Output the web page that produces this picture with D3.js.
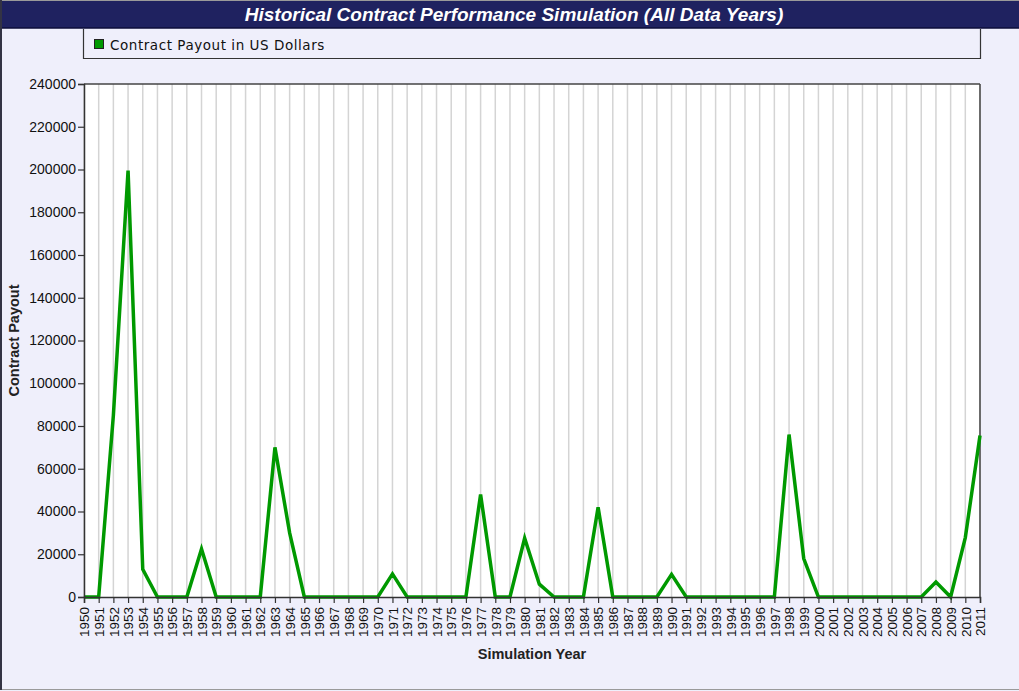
<!DOCTYPE html>
<html><head><meta charset="utf-8">
<script src="https://cdn.jsdelivr.net/npm/d3@7"></script>
<style>
html,body{margin:0;padding:0;background:#efeffb;}
svg{display:block;}
</style></head>
<body>
<svg id="chart" width="1019" height="691"></svg>
<script>
const titleText = "Historical Contract Performance Simulation (All Data Years)";
const legendLabel = "Contract Payout in US Dollars";
const xAxisTitle = "Simulation Year";
const yAxisTitle = "Contract Payout";
const years = d3.range(1950, 2012).map(String);
const payouts = [
  0, 0, 85000, 199500, 13000, 0, 0, 0, 22500, 0,
  0, 0, 0, 70000, 30000, 0, 0, 0, 0, 0,
  0, 10800, 0, 0, 0, 0, 0, 48000, 0, 0,
  27500, 6000, 0, 0, 0, 42000, 0, 0, 0, 0,
  10600, 0, 0, 0, 0, 0, 0, 0, 76000, 18000,
  0, 0, 0, 0, 0, 0, 0, 0, 7000, 0,
  27800, 75500
];
const yTicks = d3.range(0, 240001, 20000);

const W = 1019, H = 691;
const svg = d3.select("#chart");
const m = {left: 84, right: 980, top: 84, bottom: 597};

// background & frame
svg.append("rect").attr("x",0).attr("y",0).attr("width",W).attr("height",H).attr("fill","#efeffb");
svg.append("line").attr("x1",0).attr("x2",W).attr("y1",0.5).attr("y2",0.5).attr("stroke","#9a9a9a");
svg.append("line").attr("x1",0).attr("x2",W).attr("y1",689.5).attr("y2",689.5).attr("stroke","#9a9a9a");
svg.append("line").attr("x1",1).attr("x2",1).attr("y1",0).attr("y2",690).attr("stroke","#333344").attr("stroke-width",2);

// title bar
svg.append("rect").attr("x",2).attr("y",1).attr("width",W-2).attr("height",27).attr("fill","#1f2260");
svg.append("line").attr("x1",2).attr("x2",W).attr("y1",28).attr("y2",28).attr("stroke","#0c0e3a").attr("stroke-width",1.5);
svg.append("text").attr("x",514).attr("y",21)
  .attr("text-anchor","middle").attr("fill","#ffffff")
  .attr("font-family","'Liberation Sans Narrow','Arial Narrow',Arial,sans-serif")
  .attr("font-size",19).attr("font-weight","bold").attr("font-style","italic")
  .text(titleText);

// legend box
svg.append("path").attr("d",`M83.5,29 V58.5 H980.5 V29`).attr("fill","none")
  .attr("stroke","#333").attr("stroke-width",1.2);
svg.append("rect").attr("x",94.5).attr("y",39.5).attr("width",9).attr("height",9)
  .attr("fill","#009900").attr("stroke","#222").attr("stroke-width",1);
svg.append("text").attr("x",110).attr("y",49.5).attr("fill","#111")
  .attr("font-family","'DejaVu Sans',Verdana,sans-serif").attr("font-size",13.5)
  .attr("letter-spacing",0.55)
  .text(legendLabel);

// scales
const x = d3.scalePoint().domain(years).range([m.left, m.right]);
const y = d3.scaleLinear().domain([0, 240000]).range([m.bottom, m.top]);

// plot area
svg.append("rect").attr("x",m.left).attr("y",m.top).attr("width",m.right-m.left).attr("height",m.bottom-m.top).attr("fill","#ffffff");

// vertical gridlines
svg.append("g").selectAll("line").data(years).join("line")
  .attr("x1",d=>x(d)).attr("x2",d=>x(d)).attr("y1",m.top).attr("y2",m.bottom)
  .attr("stroke","#d4d4d4").attr("stroke-width",1.5);

// border of plot
svg.append("line").attr("x1",m.left).attr("x2",m.right).attr("y1",m.top).attr("y2",m.top).attr("stroke","#444").attr("stroke-width",1.5);
svg.append("line").attr("x1",m.right).attr("x2",m.right).attr("y1",m.top).attr("y2",m.bottom).attr("stroke","#444").attr("stroke-width",1.5);

// line
const line = d3.line().x((d,i)=>x(years[i])).y(d=>y(d));
svg.append("path").datum(payouts).attr("d",line)
  .attr("fill","none").attr("stroke","#009900").attr("stroke-width",3.5).attr("stroke-linejoin","miter");

// axes
const yAxis = d3.axisLeft(y).tickValues(yTicks).tickFormat(d3.format("d")).tickSize(6).tickPadding(2);
const gy = svg.append("g").attr("transform",`translate(${m.left},0)`).call(yAxis);
gy.select(".domain").attr("stroke","#333").attr("stroke-width",1.5);
gy.selectAll(".tick line").attr("stroke","#333").attr("stroke-width",1.2);
gy.selectAll("text").attr("font-family","'Liberation Sans',Arial,sans-serif").attr("font-size",14).attr("fill","#111");

const xAxis = d3.axisBottom(x).tickSize(6).tickPadding(3);
const gx = svg.append("g").attr("transform",`translate(0,${m.bottom})`).call(xAxis);
gx.select(".domain").attr("stroke","#333").attr("stroke-width",1.5);
gx.selectAll(".tick line").attr("stroke","#333").attr("stroke-width",1.2);
gx.selectAll("text")
  .attr("font-family","'Liberation Sans',Arial,sans-serif").attr("font-size",13.5).attr("fill","#111")
  .attr("transform","rotate(-90)").attr("text-anchor","end")
  .attr("x",-10).attr("y",0).attr("dy","0.35em");

// axis titles
svg.append("text").attr("x",(m.left+m.right)/2).attr("y",659).attr("text-anchor","middle")
  .attr("font-family","'Liberation Sans',Arial,sans-serif").attr("font-size",14.5).attr("font-weight","bold").attr("fill","#222")
  .text(xAxisTitle);
svg.append("text").attr("transform",`translate(19,${(m.top+m.bottom)/2}) rotate(-90)`).attr("text-anchor","middle")
  .attr("font-family","'Liberation Sans',Arial,sans-serif").attr("font-size",14.5).attr("font-weight","bold").attr("fill","#222")
  .text(yAxisTitle);
</script>
</body></html>
